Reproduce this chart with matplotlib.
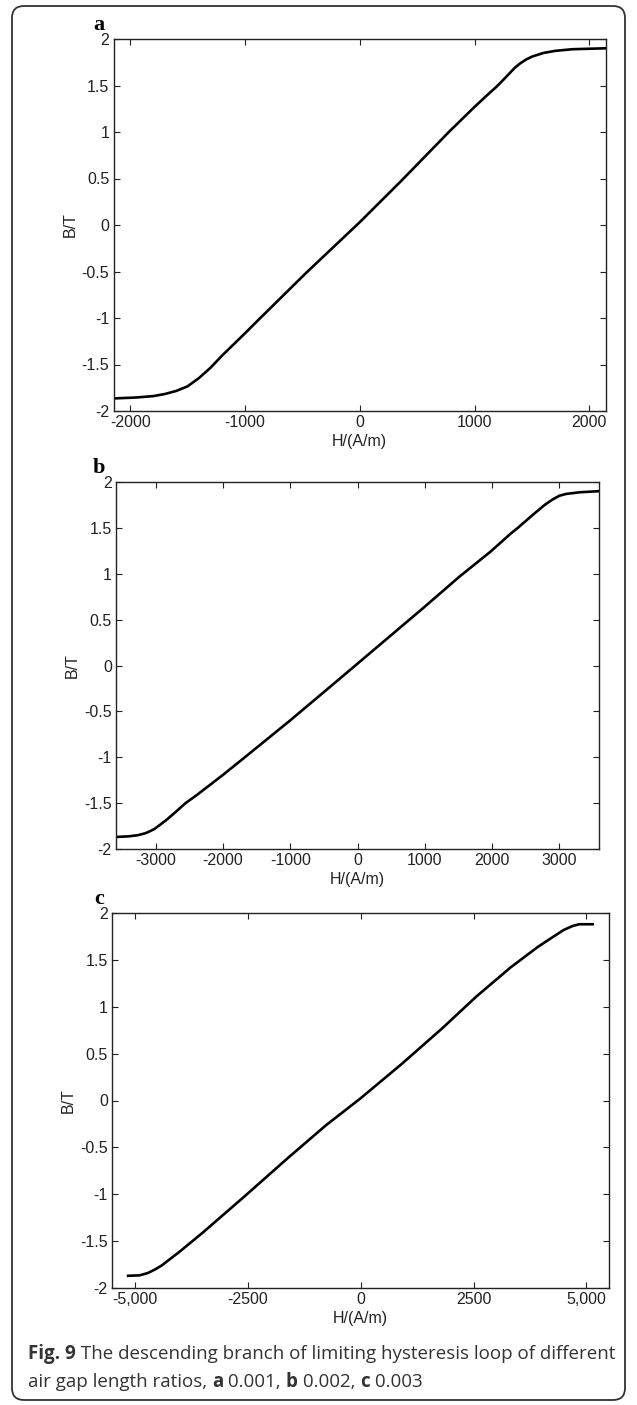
import matplotlib
matplotlib.use("Agg")
import matplotlib.pyplot as plt
from matplotlib.patches import FancyBboxPatch

# panel a: air gap ratio 0.001
H_a = [-2125, -1950, -1800, -1700, -1600, -1500, -1400, -1300, -1250, -1200, -1100,
       -1000, -866, -463, 0, 358, 776, 1000, 1100, 1194, 1250, 1300, 1350, 1400,
       1450, 1500, 1600, 1700, 1850, 2143]
B_a = [-1.864, -1.855, -1.84, -1.818, -1.785, -1.735, -1.645, -1.535, -1.47, -1.405, -1.285,
       -1.165, -1.0, -0.51, 0.03, 0.47, 1.0, 1.27, 1.385, 1.49, 1.56, 1.625, 1.69, 1.74,
       1.78, 1.81, 1.85, 1.872, 1.89, 1.9]

# panel b: air gap ratio 0.002
H_b = [-3588, -3400, -3267, -3150, -3080, -3013, -2850, -2707, -2555, -2402, -1995,
       -1690, -1003, -468, 0, 499, 982, 1517, 1975, 2280, 2382, 2585, 2789, 2900,
       3000, 3100, 3300, 3588]
B_b = [-1.869, -1.862, -1.85, -1.828, -1.805, -1.78, -1.69, -1.60, -1.50, -1.42, -1.19,
       -1.01, -0.60, -0.27, 0.02, 0.33, 0.63, 0.97, 1.24, 1.44, 1.50, 1.63, 1.755, 1.81,
       1.85, 1.87, 1.888, 1.90]

# panel c: air gap ratio 0.003
H_c = [-5155, -4900, -4716, -4550, -4412, -4250, -4033, -3503, -2593, -1607, -773,
       0, 895, 1805, 2563, 3321, 3928, 4307, 4500, 4686, 4837, 5140]
B_c = [-1.87, -1.865, -1.84, -1.80, -1.76, -1.70, -1.62, -1.41, -1.03, -0.61, -0.265,
       0.025, 0.385, 0.77, 1.11, 1.42, 1.64, 1.76, 1.82, 1.86, 1.88, 1.88]

y_ticks = [-2, -1.5, -1, -0.5, 0, 0.5, 1, 1.5, 2]
y_labels = ["-2", "-1.5", "-1", "-0.5", "0", "0.5", "1", "1.5", "2"]
c_ticks = [-5000, -2500, 0, 2500, 5000]
c_labels = ["-5,000", "-2500", "0", "2500", "5,000"]

W, H = 637, 1405
plt.rcParams["font.family"] = ["Liberation Sans", "DejaVu Sans"]
plt.rcParams["axes.unicode_minus"] = False
fig = plt.figure(figsize=(W / 100, H / 100), dpi=100)


def px_axes(left, top, right, bottom):
    return fig.add_axes([left / W, 1 - bottom / H, (right - left) / W, (bottom - top) / H])


panels = [
    ("a", H_a, B_a, (113.5, 39, 606, 411), (-2145, 2145), [-2000, -1000, 0, 1000, 2000], None),
    ("b", H_b, B_b, (116, 482, 599, 849), (-3588, 3588),
     [-3000, -2000, -1000, 0, 1000, 2000, 3000], None),
    ("c", H_c, B_c, (112, 913, 609, 1288), (-5512, 5500), c_ticks, c_labels),
]

for letter, hx, by, box, xlim, xt, xtl in panels:
    ax = px_axes(*box)
    ax.plot(hx, by, color="black", lw=1.9)
    ax.set_xlim(*xlim)
    ax.set_ylim(-2, 2)
    ax.set_xticks(xt)
    if xtl is not None:
        ax.set_xticklabels(xtl)
    ax.set_yticks(y_ticks)
    ax.set_yticklabels(y_labels)
    ax.tick_params(direction="in", top=True, right=True, length=4, width=0.8,
                   labelsize=11.5, colors="#222222", pad=3)
    for s in ax.spines.values():
        s.set_linewidth(1.0)
        s.set_color("#222222")
    ax.set_xlabel("H/(A/m)", fontsize=11.5, color="#222222", labelpad=3)
    ax.set_ylabel("B/T", fontsize=11.5, color="#222222", labelpad=3)
    fig.text(99 / W, 1 - (box[1] - 14) / H, letter, family="Liberation Serif",
             fontweight="bold", fontsize=16, ha="center", va="center")

# rounded frame round the whole figure
frame = FancyBboxPatch((0.12, 0.05), 6.13, 13.94,
                       boxstyle="round,pad=0,rounding_size=0.12",
                       transform=fig.dpi_scale_trans, fill=False,
                       edgecolor="#333333", linewidth=1.3)
fig.patches.append(frame)

# caption with bold pieces
renderer = fig.canvas.get_renderer()


def rich_line(x, y, parts):
    for s, weight in parts:
        t = fig.text(x, y, s, fontweight=weight, family=["Open Sans", "DejaVu Sans"],
                     fontsize=13.5, color="#333333", va="baseline")
        x += t.get_window_extent(renderer).width / W


rich_line(28 / W, 1 - 1359 / H,
          [("Fig. 9", "bold"),
           (" The descending branch of limiting hysteresis loop of different", "normal")])
rich_line(28 / W, 1 - 1387 / H,
          [("air gap length ratios, ", "normal"), ("a", "bold"), (" 0.001, ", "normal"),
           ("b", "bold"), (" 0.002, ", "normal"), ("c", "bold"), (" 0.003", "normal")])

fig.savefig("out.png", dpi=100)
